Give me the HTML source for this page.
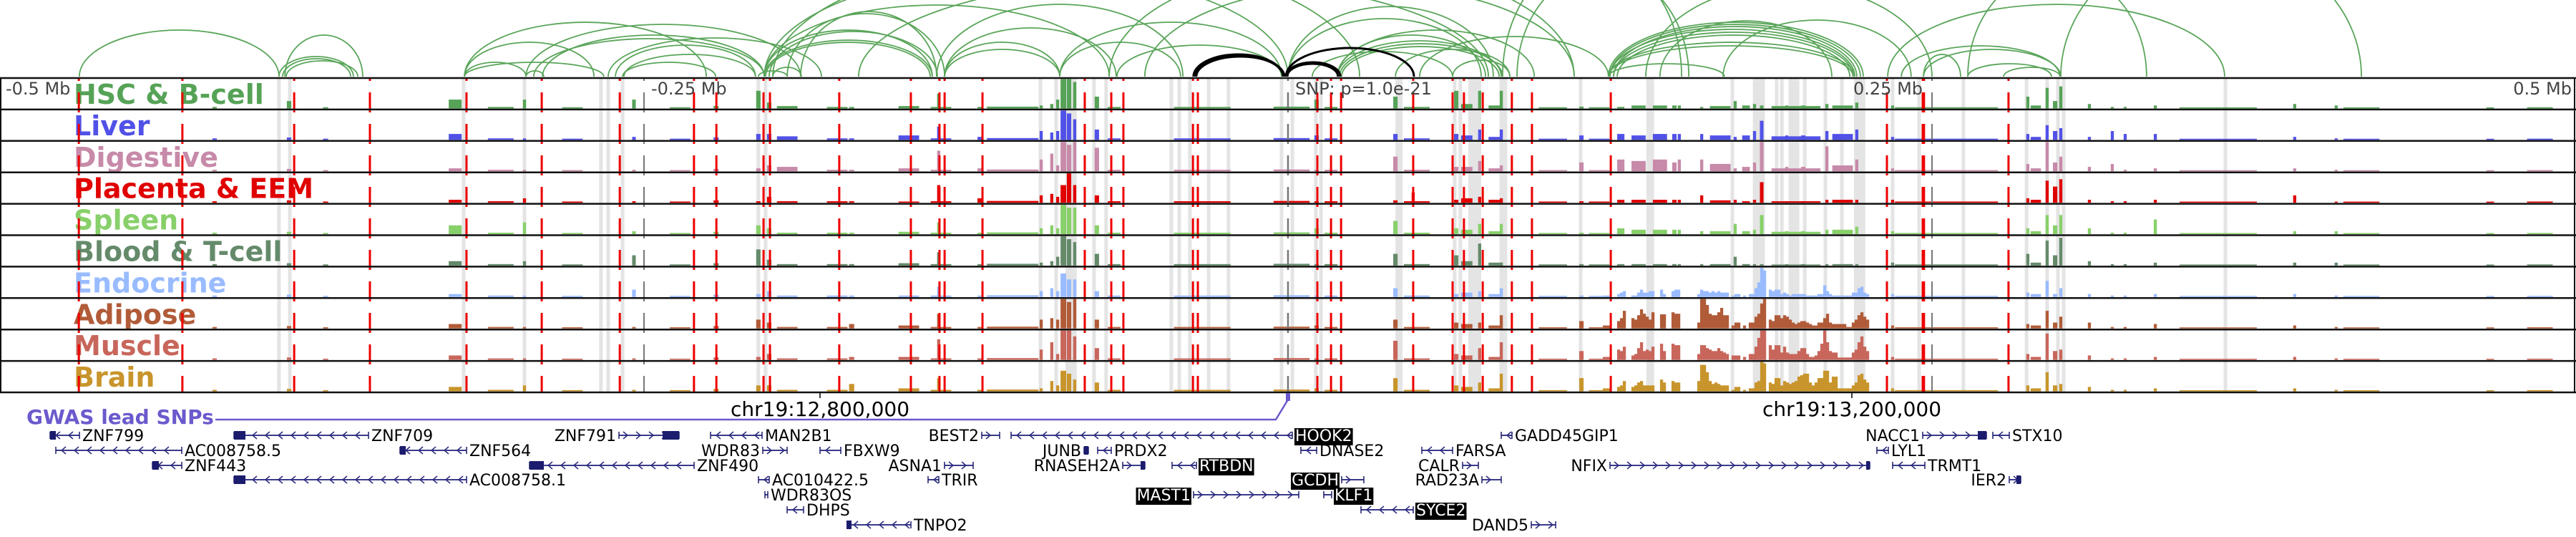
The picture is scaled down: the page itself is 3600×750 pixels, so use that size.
<!DOCTYPE html>
<html><head><meta charset="utf-8"><style>
html,body{margin:0;padding:0;background:#fff;}
svg{display:block;font-family:"DejaVu Sans","Liberation Sans",sans-serif;}
</style></head><body>
<svg id="chart" width="3600" height="750" viewBox="0 0 3600 750" xmlns="http://www.w3.org/2000/svg">
<g id="arcs"></g>
<g id="bands"></g>
<g id="tracks"></g>
<g id="labels"></g>
<g id="vlines"></g>
<g id="frame"></g>
<g id="axis">
<text x="8" y="132" font-size="24" fill="#444">-0.5 Mb</text>
<text x="910" y="132" font-size="24" fill="#444">-0.25 Mb</text>
<text x="1810" y="132" font-size="24" fill="#444">SNP: p=1.0e-21</text>
<text x="2590" y="132" font-size="24" fill="#444">0.25 Mb</text>
<text x="3594" y="132" font-size="24" fill="#444" text-anchor="end">0.5 Mb</text>
<line x1="1146" y1="548" x2="1146" y2="556" stroke="#000" stroke-width="1.5"/>
<line x1="2588" y1="548" x2="2588" y2="556" stroke="#000" stroke-width="1.5"/>
<text x="1146" y="581" font-size="28" text-anchor="middle">chr19:12,800,000</text>
<text x="2588" y="581" font-size="28" text-anchor="middle">chr19:13,200,000</text>
</g>
<g id="gwas">
<text x="37" y="592" font-size="28" font-weight="bold" fill="#6a5acd">GWAS lead SNPs</text>
<polyline points="301,586 1783,586 1800,558" fill="none" stroke="#6a5acd" stroke-width="2.5"/>
<rect x="1797" y="549" width="6" height="11" fill="#6a5acd"/>
</g>
<g id="genes"></g>
</svg>
<script>
// ---- scale ----
const KB_PX = 3.6, CENTER = 1800;
function xs(kb){ return CENTER + kb*KB_PX; }
const NS = "http://www.w3.org/2000/svg";
function mk(tag, attrs, parent){ const e=document.createElementNS(NS,tag); for(const k in attrs) e.setAttribute(k,attrs[k]); parent.appendChild(e); return e; }

// ---- track data ----
const trackNames = ["HSC & B-cell","Liver","Digestive","Placenta & EEM","Spleen","Blood & T-cell","Endocrine","Adipose","Muscle","Brain"];
const trackColors = ["#56a357","#5151e8","#c78aa9","#e00000","#88d06a","#648a6a","#99bbff","#b15b38","#c8665b","#c8952c"];
const binPos = [-416.7,-387.8,-373.6,-323.3,-305.6,-296.4,-277.8,-253.9,-236,-222,-205.6,-201.4,-194.4,-175,-169.4,-147.2,-135.6,-134.7,-119.7,-106.9,-95.8,-91.7,-89.4,-87.2,-85,-82.8,-74.2,-67.5,-33.3,1.4,11.1,16.7,41.7,50,48.6,65.3,69.4,74.4,80.6,82.8,102.8,113.9,120.8,129.2,136.1,144.4,150,151.9,160.6,167.8,173.6,177.8,181.1,183.9,197.2,193.6,200,209.2,215.3,220.8,234.7,255.6,287.2,290.3,294.7,297.8,300,311.1,320,325,336.7,361.1,390.8,406.9,416.7,466.7,486];
const binWidth = [1.7,1.7,2,5,10,1.2,8,1.4,8,2,1.7,1.7,8,8,2,8,1.2,8,1.7,20,1.2,1.2,1.2,2.2,1.7,1.2,1.7,5,22,14,1.7,5,1.7,10,1.2,1.7,4.4,1.2,5.5,1.2,11,1.7,8,2.8,5.5,5.5,1.7,1.2,1.2,8,1.2,3,1.2,1.4,19,1.2,1.7,1.2,8,1.2,1.2,40,1.2,4,1.2,1.7,1.2,1.2,1.2,1.2,1.2,30,1.2,1.2,14,3,10];
const binHeights = [
.05,[.25,.08,.08,.08,.08,.08,.08,.08,.08,.08],.04,[.3,.2,.1,.1,.3,.15,.1,.15,.15,.15],.05,
[.3,.05,.05,.15,.4,.15,.05,.05,.05,.2],.04,[.3,.1,.05,.05,.1,.35,.25,.05,.05,.05],.04,.08,
[.6,.2,.1,.05,.3,.55,.1,.3,.1,.2],.2,[.08,.12,.15,.05,.05,.05,.05,.05,.05,.05],.05,[.05,.05,.05,.05,.05,.05,.05,.15,.1,.25],
[.08,.15,.1,.04,.08,.08,.05,.1,.1,.1],[.5,.45,.7,.6,.4,.45,.35,.5,.7,.45],.05,[.05,.1,.1,.15,.05,.05,.05,.05,.05,.05],.06,
[.1,.3,.4,.25,.2,.1,.2,.3,.35,.1],[.15,.25,.6,.3,.3,.15,.3,.35,.6,.35],[.3,.3,.2,.2,.2,.3,.2,.3,.2,.2],[1,1,1,.6,1,1,.8,1,1,.7],[1,.9,.9,1,.9,.9,.6,.9,1,.6],
[.9,.7,1,.6,.9,.8,.6,1,.8,.4],[.4,.35,.8,.25,.3,.4,.2,.3,.4,.3],.05,.05,.06,
[.3,.15,.05,.05,.2,.05,.05,.1,.05,.1],.05,[.4,.2,.5,.08,.45,.4,.3,.3,.65,.45],.05,[.05,.05,.05,.35,.05,.05,.05,.05,.05,.05],
[.6,.2,.15,.1,.2,.35,.1,.2,.2,.2],.15,[.6,.35,.35,.2,.35,.75,.2,.2,.4,.3],.1,[.6,.35,.2,.15,.35,.1,.3,.45,.6,.6],
.04,[.06,.15,.3,.05,.05,.05,.05,.25,.3,.45],.04,[.05,.2,.4,.1,.2,.05,0,0,0,0],[.1,.15,.35,.1,.15,.05,0,0,0,0],
[.1,.2,.4,.1,.15,.05,0,0,0,0],[.1,.2,.3,.1,.15,.05,0,0,0,0],[.1,.2,.4,.1,.15,.05,0,0,0,0],[.05,.2,.4,.25,.1,.05,0,0,0,0],[.08,.15,.25,.08,.1,.05,0,0,0,0],
[.25,.1,.1,.1,.35,.3,0,0,0,0],[.1,.15,.15,.05,.1,.05,0,0,0,0],[.15,.3,.3,.1,.15,.05,0,0,0,0],[.1,.65,1,.7,.65,.05,0,0,0,0],[.08,.12,.1,.05,.08,.02,0,0,0,0],
[.1,.15,.15,.05,.1,.05,0,0,0,0],[.1,.15,.15,.05,.1,.05,0,0,0,0],[.15,.3,.85,.1,.15,.05,0,0,0,0],[.1,.2,.2,.1,.15,.05,0,0,0,0],[.2,.35,.4,.1,.25,.05,0,0,0,0],
.1,.04,[.4,.2,.25,.15,.2,.4,.15,.15,.2,.2],.1,[.7,.5,1,.75,.65,.85,.55,.6,.9,.65],
[.25,.3,.3,.55,.3,.35,.1,.2,.3,.2],[.75,.4,.5,.8,.65,.95,.3,.4,.35,.25],[.15,.1,.15,.1,.2,.15,.1,.2,.15,.15],[.05,.3,.25,.05,.05,.05,.05,.05,.05,.05],[.05,.2,.05,.05,.05,.05,.05,.05,.05,.05],
[.1,.2,.1,.1,.5,.1,.1,.15,.1,.1],.03,[.15,.1,.1,.25,.1,.1,.1,.1,.1,.1],[.1,.05,.05,.03,.1,.1,.05,.05,.05,.05],.03,.03,.04];

// fine-resolution region (tracks Endocrine, Adipose, Muscle, Brain)
const fineStartKb = 122.2, fineStepKb = 1.111;
const fineEndocrine = [.05,.05,.05,0,0,.1,.15,.2,0,0,.05,.05,.15,.25,.15,.15,.2,.2,0,0,.25,.1,0,0,.2,.25,.25,0,0,0,0,0,0,.1,.25,.2,.2,.15,.2,.15,.2,.15,.15,.15,0,.05,.1,.1,0,.05,0,.1,.1,.3,.5,1,.9,0,.25,.2,.25,.25,.1,.15,.1,.05,.1,.1,.1,.1,.1,.05,.05,.05,.05,.1,.1,.4,.2,.1,.05,.05,.05,.05,.05,.05,.05,.15,.15,.3,.35,.15,.1];
const fineAdipose = [.1,.1,.1,0,0,.25,.35,.6,0,0,.35,.3,.45,.65,.5,.4,.3,.55,0,0,.48,.48,0,0,.55,.5,.5,0,0,0,0,0,0,.2,1,1,.8,.5,.45,.45,.55,.7,.45,.45,0,.1,.2,.2,0,.1,0,.2,.2,.4,.5,.85,1,0,.3,.25,.45,.45,.35,.45,.4,.3,.2,.15,.2,.25,.25,.2,.15,.1,.1,.2,.2,.35,.5,.2,.15,.15,.15,.15,.15,.05,.05,.2,.3,.45,.55,.4,.3];
const fineMuscle = [.1,.1,.1,0,0,.35,.3,.45,0,0,.15,.2,.4,.6,.3,.35,.3,.45,0,0,.55,.3,0,0,.55,.5,.5,0,0,0,0,0,0,.2,.5,.5,.4,.35,.3,.3,.4,.3,.25,.2,0,.15,.15,.15,0,.1,0,.2,.2,.45,.75,1,1,0,.5,.35,.5,.5,.25,.45,.25,.2,.2,.2,.3,.4,.4,.2,.1,.1,.15,.3,.55,1,.6,.3,.25,.25,.08,.08,.08,.08,.08,.25,.35,.6,.8,.45,.3];
const fineBrain = [.1,.1,.1,0,0,.15,.2,.35,0,0,.15,.2,.3,.35,.2,.2,.2,.2,0,0,.4,.3,0,0,.35,.3,.3,0,0,0,0,0,0,.35,.9,.9,.65,.35,.25,.3,.25,.2,.2,.2,0,.05,.15,.15,0,.05,0,.1,.1,.3,.35,1,.95,0,.3,.25,.45,.45,.2,.35,.3,.25,.3,.35,.5,.55,.6,.6,.3,.2,.3,.45,.45,.7,.7,.3,.5,.5,.1,.1,.1,.1,.1,.2,.3,.55,.6,.4,.3];
const fineTracks = {6:fineEndocrine,7:fineAdipose,8:fineMuscle,9:fineBrain};

const snpLinesKb = [-469.4,-429.2,-385.8,-356.4,-318.9,-289.7,-259.4,-230.6,-221.9,-203.6,-201.1,-174.2,-146.4,-135.3,-133.3,-118.6,-78.9,-68.6,-63.9,-36.9,-35,11.4,16.7,20.6,48.6,63.9,68.3,75.6,86.9,94.7,125.3,232.5,246.4,246.9,279.7];
const leadSnpKb = [0];
const tickKb = [-250,250];
const bandKb = [-391.7,-387.5,-320,-296.4,-266.7,-263.9,-258.3,-205.6,-202.8,-96.1,-90,-84.2,-75.3,-70.6,-45.3,-42.2,-38.1,-30.8,-23.1,-2.5,1.7,10.8,12.8,43.1,64.7,66.9,72.5,83.6,113.6,140.6,172.5,182.8,189.7,191.7,196.4,200.6,208.6,215,221.9,234.7,245,262.2,286.7,294.7,298.9,301.1,363.9];
const bandWidthKb = [1.4,1.4,1.4,1.4,1.4,1.4,1.4,1.4,1.4,1.4,1.4,4.4,1.4,1.4,1.4,1.4,1.4,1.4,1.4,1.4,1.4,1.4,1.4,2.8,1.4,1.4,5,3,1.4,3,1.4,4.7,1.4,1.4,4.2,1.4,1.4,1.4,4.4,1.4,1.4,1.4,1.4,1.4,1.4,1.4,1.4];

// arcs: start kb, end kb, height score (x100 px)
const arcStart = [-469.2,-389.4,-391.7,-390.3,-388.9,-319.7,-319.7,-319.7,-295.8,-289.4,-292.8,-263.9,-261.1,-257.8,-258.3,-203.3,-203.3,-201.4,-203.3,-189.2,-136.4,-133.3,-133.3,-88.6,-66.4,-88.6,-295.8,-319.7,-200,-205.6,-133.3,-194.4,-202.8,-203.3,-200,-166.7,-69.4,-55.6,
0,0,19.2,19.2,19.2,20,20.8,9.4,51.1,41.7,63.9,124.4,125,126.4,125,126.4,127.8,124.4,124.4,124.4,144.4,168.9,238.1,246.7,232.8,246.7,138.9,263.9,300,83.3,88.9,263.9,277.8];
const arcEnd = [-391.7,-359.2,-362.8,-363.9,-361.1,-225.8,-265.6,-269.4,-189.2,-203.3,-203.3,-181.1,-206.7,-206.7,-222.2,-138.1,-138.1,-136.1,-69.4,-136.4,-40.8,-88.6,-88.6,-2.5,-2.5,-41.7,-288.9,-295.8,-188.9,-194.4,-66.7,-133.3,-138.9,0,27.8,77.8,111.1,111.1,
79.7,75,95.6,76.7,82.8,83.3,82,63.9,124.4,86.1,86.1,223.3,222.2,220.8,220,219.4,218.1,220,219.4,169.4,211.1,241.9,299.7,261.1,363.6,300,250,333.3,416.7,152.8,155.6,296.4,299.7];
const arcScore = [.65,.58,.28,.25,.22,.76,.2,.48,.73,.58,.53,.54,.44,.31,.2,.65,.51,.63,1.0,.91,1.01,.48,.38,.76,.44,.48,.08,.2,.13,.08,.68,.88,.48,1.48,1.68,1.38,1.58,1.28,
.98,.81,.65,.58,.5,.46,.42,.35,.56,.38,.23,.76,.73,.7,.66,.62,.58,.48,.43,.18,.78,.79,.43,.31,1.01,.38,1.28,1.48,1.88,1.68,1.48,.18,.13];
const loopStart = [-36.7,-36.1,-35.6,-0.8,-0.8,-0.3];
const loopEnd = [-1.9,-1.9,-1.4,48.9,20.3,19.4];
const loopScore = [.31,.29,.28,.4,.2,.18];

// ---- geometry ----
const TOP = 109, TH = 43.9, NT = 10, BOTTOM = TOP + TH*NT, MAXH = 41, BASE = 107;

// bands
const gB = document.getElementById('bands');
bandKb.forEach((kb,i)=>{
  const w = bandWidthKb[i]*KB_PX;
  const r = mk('rect',{x:xs(kb)-w/2,y:TOP,width:w,height:BOTTOM-TOP,fill:'#e4e4e4'},gB);
  
  
});

// bars
const gT = document.getElementById('tracks');
for(let t=0;t<NT;t++){
  const g = mk('g',{},gT);
  
  
  const bot = TOP + TH*(t+1) - 1.5;
  binPos.forEach((kb,i)=>{
    const hv = binHeights[i];
    const v = Array.isArray(hv) ? hv[t] : hv;
    if(v<=0) return;
    const h = Math.max(1.5, v*MAXH);
    const w = Math.max(3, binWidth[i]*KB_PX);
    const r = mk('rect',{x:xs(kb)-w/2,y:bot-h,width:w,height:h,fill:trackColors[t]},g);
    
    
  });
  const fine = fineTracks[t];
  if(fine){
    fine.forEach((v,i)=>{
      if(v<=0) return;
      const x = xs(fineStartKb + i*fineStepKb);
      const h = v*MAXH;
      const r = mk('rect',{x:x,y:bot-h,width:fineStepKb*KB_PX+0.3,height:h,fill:trackColors[t]},g);
      
      
    });
  }
}

// labels
const gL = document.getElementById('labels');
trackNames.forEach((n,t)=>{
  const tx = mk('text',{x:103,y:TOP+TH*t+36,'font-size':38,'font-weight':'bold',fill:trackColors[t]},gL);
  tx.textContent = n;
  
  
});

// vertical snp lines
const gV = document.getElementById('vlines');
function vline(kb,color,name,w){
  const l = mk('line',{x1:xs(kb),x2:xs(kb),y1:TOP,y2:BOTTOM,stroke:color,'stroke-width':w,'stroke-dasharray':'28 16','stroke-dashoffset':24},gV);
  
  
}
snpLinesKb.forEach(kb=>vline(kb,'#ee0000','snp-line',3));
leadSnpKb.forEach(kb=>vline(kb,'#777','lead-snp-line',2.5));
tickKb.forEach(kb=>vline(kb,'#777','axis-tick-line',2));

// frame
const gF = document.getElementById('frame');
for(let t=0;t<=NT;t++){
  const y = TOP+TH*t;
  const l = mk('line',{x1:0,x2:3600,y1:y,y2:y,stroke:'#111','stroke-width':2.5},gF);
  
  
}
const fl = mk('line',{x1:1,x2:1,y1:TOP,y2:BOTTOM,stroke:'#111','stroke-width':2},gF);


const fr = mk('line',{x1:3598,x2:3598,y1:TOP,y2:BOTTOM,stroke:'#111','stroke-width':2},gF);



// arcs
const gA = document.getElementById('arcs');
function arc(s,e,sc,color,w,name){
  const x1 = xs(s), x2 = xs(e), h = sc*100;
  const p = mk('path',{d:`M${x1},${BASE} A${(x2-x1)/2},${h} 0 0 1 ${x2},${BASE}`,fill:'none',stroke:color,'stroke-width':w},gA);
  
  
}
arcStart.forEach((s,i)=>arc(s,arcEnd[i],arcScore[i],'#5aa55a',1.8,'loop-arc'));
loopStart.forEach((s,i)=>arc(s,loopEnd[i],loopScore[i],'#000',3,'snp-loop-arc'));

// genes
const rowY = [616,637,658,678,699,720,741];
const genes = [
["ZNF799",0,70,111,-1,[[70,78]],'R',0],["ZNF709",0,327,515,-1,[[327,343]],'R',0],["AC008758.5",1,78,254,-1,[],'R',0],
["ZNF564",1,559,652,-1,[[559,567]],'R',0],["ZNF443",2,213,254,-1,[[213,222]],'R',0],["ZNF490",2,740,970,-1,[[740,760]],'R',0],
["AC008758.1",3,327,652,-1,[[327,343]],'R',0],["ZNF791",0,865,949,1,[[926,949]],'L',0],["MAN2B1",0,993,1065,-1,[],'R',0],
["WDR83",1,1066,1100,1,[],'L',0],["FBXW9",1,1146,1175,-1,[],'R',0],["AC010422.5",3,1060,1075,-1,[],'R',0],
["WDR83OS",4,1069,1073,0,[],'R',0],["DHPS",5,1100,1123,-1,[],'R',0],["TNPO2",6,1185,1273,-1,[[1183,1190]],'R',0],
["BEST2",0,1372,1397,1,[],'L',0],["HOOK2",0,1413,1806,-1,[],'R',1],["JUNB",1,1515,1521,0,[[1515,1521]],'L',0],
["PRDX2",1,1534,1553,-1,[],'R',0],["DNASE2",1,1818,1840,-1,[],'R',0],["ASNA1",2,1320,1360,1,[],'L',0],
["RNASEH2A",2,1569,1600,1,[[1594,1600]],'L',0],["RTBDN",2,1638,1672,-1,[],'R',1],["TRIR",3,1297,1312,-1,[],'R',0],
["GCDH",3,1875,1906,1,[],'L',1],["MAST1",4,1668,1815,1,[],'L',1],["KLF1",4,1850,1861,-1,[],'R',1],
["SYCE2",5,1902,1975,-1,[],'R',1],["GADD45GIP1",0,2098,2113,-1,[],'R',0],["FARSA",1,1987,2030,-1,[],'R',0],
["CALR",2,2044,2066,1,[],'L',0],["NFIX",2,2250,2613,1,[[2608,2613]],'L',0],["RAD23A",3,2071,2098,1,[],'L',0],
["DAND5",6,2140,2174,1,[],'L',0],["NACC1",0,2687,2776,1,[[2764,2776]],'L',0],["STX10",0,2785,2808,-1,[],'R',0],
["LYL1",1,2623,2639,-1,[],'R',0],["TRMT1",2,2645,2690,-1,[],'R',0],["IER2",3,2808,2824,1,[[2818,2824]],'L',0]];
const gG = document.getElementById('genes');
genes.forEach(([name,row,x1,x2,dir,blocks,side,boxed])=>{
  const g = mk('g',{},gG);
  
  
  const cy = rowY[row]-8;
  mk('line',{x1:x1,x2:x2,y1:cy,y2:cy,stroke:'#3a3a8c','stroke-width':2},g);
  mk('line',{x1:x1,x2:x1,y1:cy-5,y2:cy+5,stroke:'#1c1c6e','stroke-width':1.5},g);
  mk('line',{x1:x2,x2:x2,y1:cy-5,y2:cy+5,stroke:'#1c1c6e','stroke-width':1.5},g);
  if(dir!==0){
    for(let x=x1+10;x<x2-4;x+=18){
      const d = dir<0 ? `M${x+4},${cy-5} L${x-2},${cy} L${x+4},${cy+5}` : `M${x-4},${cy-5} L${x+2},${cy} L${x-4},${cy+5}`;
      mk('path',{d:d,fill:'none',stroke:'#2a2a7e','stroke-width':1.5},g);
    }
  }
  blocks.forEach(b=>mk('rect',{x:b[0],y:cy-6,width:Math.max(3,b[1]-b[0]),height:12,fill:'#1c1c6e'},g));
  const tx = side==='R'? x2+4 : x1-4;
  let bg = null;
  if(boxed){ bg = mk('rect',{fill:'#000'},g); }
  const t = mk('text',{x:tx,y:rowY[row],'font-size':22,'text-anchor':side==='R'?'start':'end',fill:boxed?'#fff':'#000'},g);
  t.textContent = name;
  if(bg){ const bb=t.getBBox(); bg.setAttribute('x',bb.x-1); bg.setAttribute('y',bb.y+1); bg.setAttribute('width',bb.width+2); bg.setAttribute('height',bb.height-1); }
});
</script>
</body></html>
